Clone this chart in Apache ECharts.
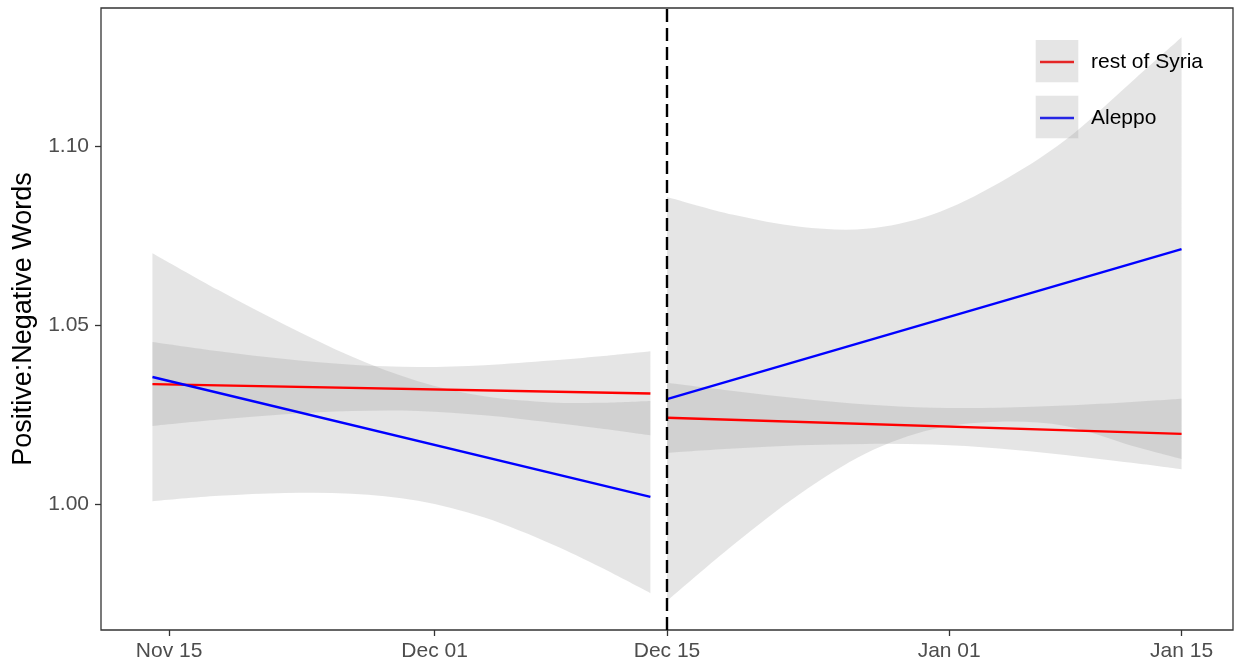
<!DOCTYPE html>
<html>
<head>
<meta charset="utf-8">
<script src="https://cdn.jsdelivr.net/npm/echarts@6/dist/echarts.min.js"></script>
<style>
  html, body { margin: 0; padding: 0; background: #ffffff; }
  #chart { width: 1238px; height: 664px; }
</style>
</head>
<body>
<div id="chart"></div>
<script>
// Sample dates for the confidence ribbons, before and after the Dec 15 cutoff
const preDates  = ['2016-11-14','2016-11-18','2016-11-22','2016-11-26','2016-11-30','2016-12-04','2016-12-08','2016-12-11','2016-12-14'];
const postDates = ['2016-12-15','2016-12-19','2016-12-23','2016-12-27','2016-12-31','2017-01-04','2017-01-08','2017-01-12','2017-01-15'];

// Fitted trend lines (start and end of each period)
const preLineDates  = ['2016-11-14', '2016-12-14'];
const postLineDates = ['2016-12-15', '2017-01-15'];
const restPreFit    = [1.0335, 1.0309];
const aleppoPreFit  = [1.0355, 1.0020];
const restPostFit   = [1.0241, 1.0196];
const aleppoPostFit = [1.0293, 1.0712];

// Confidence ribbons
const aleppoPreUpper  = [1.0701, 1.0597, 1.0500, 1.0412, 1.0343, 1.0301, 1.0284, 1.0283, 1.0288];
const aleppoPreLower  = [1.0008, 1.0023, 1.0031, 1.0029, 1.0009, 0.9962, 0.9889, 0.9823, 0.9751];
const restPreUpper    = [1.0453, 1.0427, 1.0405, 1.0389, 1.0383, 1.0388, 1.0401, 1.0413, 1.0427];
const restPreLower    = [1.0218, 1.0236, 1.0251, 1.0260, 1.0260, 1.0248, 1.0228, 1.0211, 1.0192];
const aleppoPostUpper = [1.0858, 1.0808, 1.0775, 1.0769, 1.0809, 1.0897, 1.1017, 1.1180, 1.1304];
const aleppoPostLower = [0.9729, 0.9886, 1.0028, 1.0142, 1.0209, 1.0230, 1.0218, 1.0163, 1.0126];
const restPostUpper   = [1.0339, 1.0316, 1.0295, 1.0278, 1.0269, 1.0269, 1.0275, 1.0285, 1.0294];
const restPostLower   = [1.0143, 1.0155, 1.0164, 1.0168, 1.0166, 1.0155, 1.0137, 1.0115, 1.0097];

// Axis ticks
const xTickDates = ['2016-11-15', '2016-12-01', '2016-12-15', '2017-01-01', '2017-01-15'];
const yTicks = [1.00, 1.05, 1.10];
const cutoffDate = '2016-12-15';

const ts = s => { const [y, m, d] = s.split('-').map(Number); return Date.UTC(y, m - 1, d); };
const MONTHS = ['Jan','Feb','Mar','Apr','May','Jun','Jul','Aug','Sep','Oct','Nov','Dec'];
const fmtDate = v => { const d = new Date(v); return MONTHS[d.getUTCMonth()] + ' ' + String(d.getUTCDate()).padStart(2, '0'); };

const FONT = '"Liberation Sans", Arial, Helvetica, sans-serif';
const RED = '#ff0000', BLUE = '#0000ff';
const BAND_FILL = 'rgba(153,153,153,0.25)';

// x range: data span padded by 5% on each side
const xFirst = ts(preDates[0]), xLast = ts(postDates[postDates.length - 1]);
const xPad = (xLast - xFirst) * 0.05;

// Confidence ribbon: upper edge left-to-right, lower edge back, as one closed polygon
function bandSeries(id, dates, lower, upper) {
  return {
    name: id, type: 'custom', silent: true, z: 2, animation: false,
    data: dates.map((d, i) => [ts(d), lower[i], upper[i]]),
    encode: { x: 0, y: [1, 2] },
    renderItem: (params, api) => {
      if (params.dataIndex !== 0) return null;
      const n = dates.length;
      const top = [], bot = [];
      for (let i = 0; i < n; i++) {
        top.push(api.coord([ts(dates[i]), upper[i]]));
        bot.push(api.coord([ts(dates[i]), lower[i]]));
      }
      return {
        type: 'group',
        children: [{
          type: 'path',
          shape: { pathData: ribbonPath(top, bot) },
          style: { fill: BAND_FILL, stroke: null }
        }]
      };
    }
  };
}

// Smooth (Catmull-Rom) edges joined by straight vertical ends
function curveSegs(pts) {
  let d = '';
  for (let i = 0; i < pts.length - 1; i++) {
    const p0 = pts[Math.max(i - 1, 0)], p1 = pts[i], p2 = pts[i + 1], p3 = pts[Math.min(i + 2, pts.length - 1)];
    const c1 = [p1[0] + (p2[0] - p0[0]) / 6, p1[1] + (p2[1] - p0[1]) / 6];
    const c2 = [p2[0] - (p3[0] - p1[0]) / 6, p2[1] - (p3[1] - p1[1]) / 6];
    d += ` C${c1[0]},${c1[1]} ${c2[0]},${c2[1]} ${p2[0]},${p2[1]}`;
  }
  return d;
}
function ribbonPath(top, bot) {
  const rb = bot.slice().reverse();
  return `M${top[0][0]},${top[0][1]}` + curveSegs(top) +
         ` L${rb[0][0]},${rb[0][1]}` + curveSegs(rb) + ' Z';
}

function fitSeries(name, dates, values, color, extra) {
  return Object.assign({
    name, type: 'line', symbol: 'none', z: 3, animation: false,
    data: dates.map((d, i) => [ts(d), values[i]]),
    itemStyle: { color }, lineStyle: { color, width: 2.4 }
  }, extra || {});
}

const series = [
  bandSeries('aleppoPre', preDates, aleppoPreLower, aleppoPreUpper),
  bandSeries('restPre', preDates, restPreLower, restPreUpper),
  bandSeries('aleppoPost', postDates, aleppoPostLower, aleppoPostUpper),
  bandSeries('restPost', postDates, restPostLower, restPostUpper),
  fitSeries('rest of Syria', preLineDates, restPreFit, RED),
  fitSeries('Aleppo', preLineDates, aleppoPreFit, BLUE),
  fitSeries('rest of Syria', postLineDates, restPostFit, RED),
  fitSeries('Aleppo', postLineDates, aleppoPostFit, BLUE, {
    markLine: {
      silent: true, symbol: 'none', animation: false,
      label: { show: false },
      lineStyle: { color: '#000000', width: 2.4, type: [13, 6] },
      emphasis: { disabled: true },
      data: [{ xAxis: ts(cutoffDate) }]
    }
  })
];

const legendBase = {
  orient: 'vertical', padding: 0, icon: 'rect',
  itemWidth: 34, itemHeight: 2.5,
  selectedMode: false,
  textStyle: { fontFamily: FONT, fontSize: 21, color: '#000000', lineHeight: 26, padding: [0, 0, 0, 12] }
};

const chart = echarts.init(document.getElementById('chart'), null, { renderer: 'canvas' });
chart.setOption({
  backgroundColor: '#ffffff',
  animation: false,
  grid: {
    left: 101, right: 5, top: 8, bottom: 34,
    show: true, borderColor: '#333333', borderWidth: 1.3
  },
  legend: [
    Object.assign({ data: ['rest of Syria'], left: 1040, top: 49 }, legendBase),
    Object.assign({ data: ['Aleppo'], left: 1040, top: 105 }, legendBase)
  ],
  graphic: [
    { type: 'rect', z: 90, silent: true, shape: { x: 1035.7, y: 40, width: 42.6, height: 42.3 }, style: { fill: BAND_FILL } },
    { type: 'rect', z: 90, silent: true, shape: { x: 1035.7, y: 95.7, width: 42.6, height: 42.6 }, style: { fill: BAND_FILL } }
  ],
  xAxis: {
    type: 'value',
    min: xFirst - xPad, max: xLast + xPad,
    splitLine: { show: false },
    axisLine: { show: false },
    axisTick: { show: true, length: 6, lineStyle: { color: '#333333', width: 1.3 },
      customValues: xTickDates.map(ts) },
    axisLabel: { show: true, margin: 11, fontFamily: FONT, fontSize: 21, color: '#4d4d4d',
      customValues: xTickDates.map(ts), formatter: v => fmtDate(v), hideOverlap: false }
  },
  yAxis: {
    type: 'value',
    min: 0.9648, max: 1.1386,
    splitLine: { show: false },
    axisLine: { show: false },
    axisTick: { show: true, length: 6, lineStyle: { color: '#333333', width: 1.3 },
      customValues: yTicks },
    axisLabel: { show: true, margin: 12, fontFamily: FONT, fontSize: 21, color: '#4d4d4d',
      customValues: yTicks, formatter: v => v.toFixed(2) },
    name: 'Positive:Negative Words',
    nameLocation: 'middle', nameGap: 60,
    nameTextStyle: { fontFamily: FONT, fontSize: 27, color: '#000000' }
  },
  series
});
</script>
</body>
</html>
